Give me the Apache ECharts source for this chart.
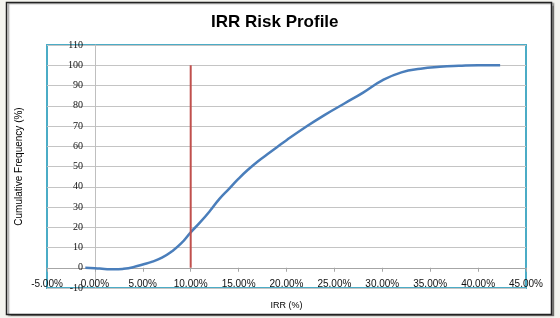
<!DOCTYPE html>
<html>
<head>
<meta charset="utf-8">
<script src="https://cdn.jsdelivr.net/npm/echarts@6/dist/echarts.min.js"></script>
<style>
  html, body { margin: 0; padding: 0; background: #f4f4ef; }
  #main { width: 560px; height: 318px; }
</style>
</head>
<body>
<div id="main"></div>
<script>
// IRR (%) vs cumulative frequency (%)
const irr = [-1, 0, 1, 2, 3, 4, 5, 6, 7, 8, 9, 10, 11, 12, 13, 14, 15, 16, 17, 18, 19, 20,
  22, 24, 26, 28, 30, 32, 34, 36, 38, 40, 42.3];
const cumFreq = [0, -0.2, -0.6, -0.8, -0.5, 0.3, 1.6, 3, 5, 8, 12, 17.5, 22.5, 28, 34, 39, 44, 48.5,
  52.5, 56, 59.5, 63, 69.5, 75.5, 81, 86.5, 92.5, 96.5, 98.3, 99.2, 99.7, 100, 100];
// hurdle marker
const hurdleX = [10, 10];
const hurdleY = [0, 100];

const xTicks = { min: -5, max: 45, step: 5 };
const yTicks = { min: -10, max: 110, step: 10 };

const chart = echarts.init(document.getElementById('main'));
chart.setOption({
  animation: false,
  backgroundColor: '#f4f4ef',
  graphic: [{
    type: 'rect',
    shape: { x: 6.5, y: 2.5, width: 545, height: 312 },
    style: { fill: '#fff', stroke: '#222', lineWidth: 1.5, shadowColor: 'rgba(0,0,0,0.35)', shadowOffsetX: 2, shadowOffsetY: 1, shadowBlur: 1 },
    z: -10
  }],
  title: {
    text: 'IRR Risk Profile',
    left: 206,
    top: 9,
    textStyle: { fontFamily: 'Liberation Sans', fontSize: 17, fontWeight: 'bold', color: '#000' }
  },
  grid: {
    left: 47, right: 34, top: 45, bottom: 30,
    containLabel: false,
    outerBoundsMode: 'none',
    show: true,
    borderColor: '#4bacc6',
    borderWidth: 2,
    backgroundColor: 'transparent'
  },
  xAxis: {
    type: 'value',
    min: xTicks.min, max: xTicks.max, interval: xTicks.step,
    name: 'IRR (%)',
    nameLocation: 'middle',
    nameGap: 13,
    nameMoveOverlap: false,
    nameTextStyle: { fontFamily: 'Liberation Sans', fontSize: 9, color: '#000' },
    axisLine: { onZero: true, lineStyle: { color: '#a6a6a6', width: 1 } },
    axisTick: { show: true, length: 4, lineStyle: { color: '#a6a6a6' } },
    axisLabel: {
      margin: -9,
      fontFamily: 'Liberation Sans', fontSize: 10, color: '#111',
      formatter: v => v.toFixed(2) + '%'
    },
    splitLine: { show: false }
  },
  yAxis: {
    type: 'value',
    min: yTicks.min, max: yTicks.max, interval: yTicks.step,
    name: 'Cumulative Frequency (%)',
    nameLocation: 'middle',
    nameGap: 23,
    nameMoveOverlap: false,
    nameTextStyle: { fontFamily: 'Liberation Sans', fontSize: 10, color: '#000' },
    axisLine: { show: true, onZero: true, lineStyle: { color: '#bfbfbf', width: 1 } },
    axisTick: { show: false },
    axisLabel: { margin: -36, fontFamily: 'Liberation Serif', fontSize: 10, color: '#111' },
    splitLine: { show: true, lineStyle: { color: '#c4c4c4', width: 1 } }
  },
  series: [
    {
      type: 'line',
      data: irr.map((x, i) => [x, cumFreq[i]]),
      smooth: true,
      symbol: 'none',
      lineStyle: { color: '#4a7ebb', width: 2.5 },
      z: 3
    },
    {
      type: 'line',
      data: hurdleX.map((x, i) => [x, hurdleY[i]]),
      symbol: 'none',
      lineStyle: { color: '#c0504d', width: 2 },
      z: 4
    }
  ]
});
</script>
</body>
</html>
